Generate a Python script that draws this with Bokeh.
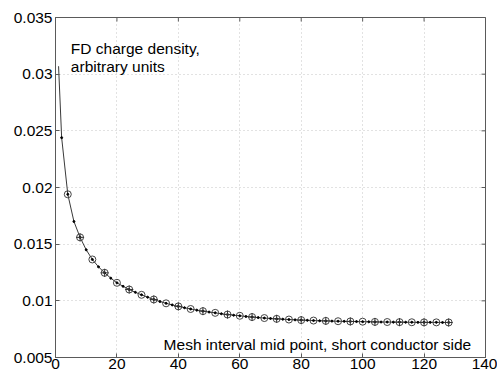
import math
from bokeh.plotting import figure
from bokeh.models import FixedTicker, PrintfTickFormatter, Label, Range1d
from bokeh.embed import file_html
from bokeh.resources import INLINE

# ---- data ----
x_ticks = [0, 20, 40, 60, 80, 100, 120, 140]
y_ticks = [0.005, 0.01, 0.015, 0.02, 0.025, 0.03, 0.035]

fine_x = [1, 2, 4, 6, 8, 10, 12, 14, 16, 18, 20, 22, 24, 26, 28, 30, 32, 34, 36,
          38, 40, 42, 44, 46, 48, 50, 52, 54, 56, 58, 60, 62, 64, 66, 68, 70, 72, 74,
          76, 78, 80, 82, 84, 86, 88, 90, 92, 94, 96, 98, 100, 102, 104, 106, 108,
          110, 112, 114, 116, 118, 120, 122, 124, 126, 128]
fine_y = [0.0307, 0.0244, 0.0194, 0.0170, 0.0156, 0.0145, 0.01365, 0.0130,
          0.01247, 0.0120, 0.01159, 0.01128, 0.0110, 0.01075, 0.01053, 0.01032,
          0.01012, 0.00994, 0.00978, 0.00964, 0.00951, 0.00939, 0.00928, 0.00918,
          0.00909, 0.00901, 0.00894, 0.00886, 0.00879, 0.00873, 0.00868, 0.00862,
          0.00857, 0.00852, 0.00848, 0.00844, 0.00841, 0.00838, 0.00835, 0.00832,
          0.00830, 0.00828, 0.00826, 0.00824, 0.00823, 0.00821, 0.00820, 0.00819,
          0.00818, 0.00817, 0.00816, 0.00815, 0.00814, 0.00813, 0.00813, 0.00812,
          0.00812, 0.00811, 0.00811, 0.00810, 0.00810, 0.00810, 0.00810, 0.00809,
          0.00809]

circle_x = [4, 8, 12, 16, 20, 24, 28, 32, 36, 40, 44, 48, 52, 56, 60, 64, 68, 72, 76,
            80, 84, 88, 92, 96, 100, 104, 108, 112, 116, 120, 124, 128]
circle_y = [0.0194, 0.0156, 0.01365, 0.01247, 0.01159, 0.0110, 0.01053, 0.01012,
            0.00978, 0.00951, 0.00928, 0.00909, 0.00894, 0.00879, 0.00868, 0.00857,
            0.00848, 0.00841, 0.00835, 0.00830, 0.00826, 0.00823, 0.00820, 0.00818,
            0.00816, 0.00814, 0.00813, 0.00812, 0.00811, 0.00810, 0.00810, 0.00809]

cross_x = [8, 16, 24, 32, 40, 48, 56, 64, 72, 80, 88, 96, 104, 112, 120, 128]
cross_y = [0.0156, 0.01247, 0.0110, 0.01012, 0.00951, 0.00909, 0.00879, 0.00857,
           0.00841, 0.00830, 0.00823, 0.00818, 0.00814, 0.00812, 0.00810, 0.00809]

label_top = "FD charge density,"
label_top2 = "arbitrary units"
label_bottom = "Mesh interval mid point, short conductor side"

FONT = "Liberation Sans"
FSIZE = "15.5px"
FRAME = "#5a5a5a"

x_lo, x_hi = x_ticks[0], x_ticks[-1]
y_lo, y_hi = y_ticks[0], y_ticks[-1]

p = figure(width=497, height=376, output_backend="svg", toolbar_location=None,
           x_range=Range1d(x_lo, x_hi), y_range=Range1d(y_lo, y_hi),
           min_border_left=55, min_border_right=12, min_border_top=17,
           min_border_bottom=19, background_fill_color="white",
           border_fill_color="white", outline_line_color=FRAME)

for ax in (p.xaxis[0], p.yaxis[0]):
    ax.major_label_text_font = FONT
    ax.major_label_text_font_size = FSIZE
    ax.major_label_text_color = "black"
    ax.major_tick_in = 4
    ax.major_tick_out = 0
    ax.minor_tick_in = 0
    ax.minor_tick_out = 0
    ax.axis_line_color = FRAME
    ax.major_tick_line_color = FRAME

p.xaxis[0].ticker = FixedTicker(ticks=x_ticks)
p.yaxis[0].ticker = FixedTicker(ticks=y_ticks)
p.yaxis[0].formatter = PrintfTickFormatter(format="%g")
p.xaxis[0].major_label_standoff = 1
p.yaxis[0].major_label_standoff = 3

p.xgrid.ticker = FixedTicker(ticks=x_ticks)
p.ygrid.ticker = FixedTicker(ticks=y_ticks)
for g in (p.xgrid[0], p.ygrid[0]):
    g.grid_line_color = "#c4c4c4"
    g.grid_line_dash = "1 3"
    g.grid_line_width = 1

# inward ticks on the right and top edges (clipped half of a dash marker)
p.scatter([x_hi] * len(y_ticks), y_ticks, marker="dash", size=8, line_color=FRAME)
p.scatter(x_ticks, [y_hi] * len(x_ticks), marker="dash", size=8, angle=math.pi / 2,
          line_color=FRAME)

p.line(fine_x, fine_y, line_color="#3a3a3a", line_width=1)
p.scatter(fine_x[1:], fine_y[1:], marker="circle", size=2, fill_color="black",
          line_color="black")
p.scatter(circle_x, circle_y, marker="circle", size=7, fill_color=None,
          line_color="#444444", line_width=1)
p.scatter(cross_x, cross_y, marker="cross", size=8, line_color="#333333", line_width=1)

for txt, xx, yy in ((label_top, 5, 0.03226), (label_top2, 5, 0.0307),
                    (label_bottom, 35.2, 0.00615)):
    p.add_layout(Label(x=xx, y=yy, text=txt, text_font=FONT, text_font_size=FSIZE,
                       text_color="black", text_baseline="alphabetic"))

open("out.html", "w").write(file_html(p, INLINE))
